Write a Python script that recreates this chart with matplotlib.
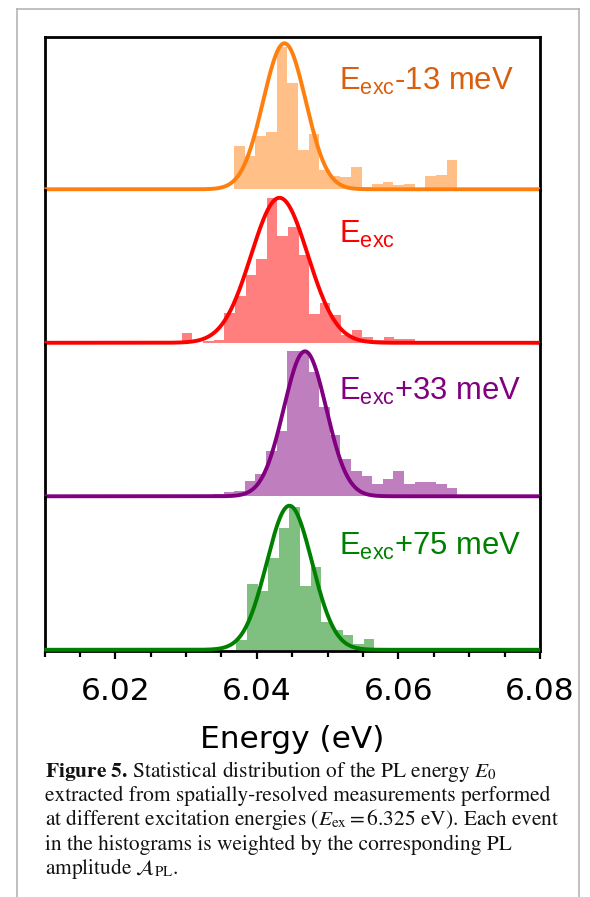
import numpy as np
import matplotlib
matplotlib.use("Agg")
import matplotlib.pyplot as plt
from matplotlib.lines import Line2D
from matplotlib.ticker import MultipleLocator

# ---------------- data ----------------
BIN_WIDTH = 0.0015  # eV

orange_start = 6.0368
orange_heights = [0.282, 0.216, 0.354, 0.380, 0.940, 0.702, 0.262, 0.365, 0.125,
                  0.085, 0.081, 0.144, 0.015, 0.033, 0.046, 0.026, 0.033, 0.007,
                  0.085, 0.092, 0.195]

red_start = 6.0294
red_heights = [0.065, 0.0, 0.010, 0.015, 0.195, 0.310, 0.448, 0.552, 0.952, 0.703,
               0.760, 0.578, 0.188, 0.260, 0.182, 0.048, 0.084, 0.039, 0.015,
               0.041, 0.026, 0.022]

purple_start = 6.0293
purple_heights = [0.008, 0.0, 0.010, 0.012, 0.026, 0.037, 0.100, 0.145, 0.300,
                  0.427, 0.952, 0.952, 0.816, 0.588, 0.403, 0.245, 0.169, 0.132,
                  0.082, 0.115, 0.167, 0.082, 0.095, 0.091, 0.082, 0.052]

green_start = 6.0371
green_heights = [0.065, 0.430, 0.383, 0.600, 0.800, 0.940, 0.416, 0.545, 0.182,
                 0.130, 0.097, 0.039, 0.071, 0.0, 0.005, 0.005, 0.013]

# Gaussian fits: centre (eV), sigma (eV), amplitude
fit_centers = [6.0439, 6.0432, 6.0468, 6.0446]
fit_sigmas = [0.0030, 0.0040, 0.0030, 0.0032]
fit_amps = [0.962, 0.952, 0.952, 0.946]

labels = [r"E$_\mathregular{exc}$-13 meV", r"E$_\mathregular{exc}$",
          r"E$_\mathregular{exc}$+33 meV", r"E$_\mathregular{exc}$+75 meV"]

x_ticks = [6.02, 6.04, 6.06, 6.08]
x_tick_labels = ["6.02", "6.04", "6.06", "6.08"]
x_label = "Energy (eV)"

caption_lines = [
    r"$\mathbf{Figure\ 5.}\,$Statistical distribution of the PL energy $E_0$",
    "extracted from spatially-resolved measurements performed",
    r"at different excitation energies ($E_\mathrm{ex} = 6.325$ eV). Each event",
    "in the histograms is weighted by the corresponding PL",
    r"amplitude $\mathcal{A}_\mathrm{PL}$.",
]

# ---------------- styling ----------------
line_colors = ["#ff7f0e", "#ff0000", "#800080", "#008000"]
bar_colors = ["#ffbf86", "#ff7f7f", "#bf7fbf", "#7fbf7f"]
text_colors = ["#d95f0e", "#ff0000", "#800080", "#008000"]
label_y = [0.656, 0.658, 0.635, 0.623]

starts = [orange_start, red_start, purple_start, green_start]
heights = [orange_heights, red_heights, purple_heights, green_heights]

plt.rcParams["mathtext.fontset"] = "custom"
plt.rcParams["mathtext.rm"] = "Liberation Sans"

W, H = 590, 897
fig = plt.figure(figsize=(W / 100, H / 100), dpi=100)

left_px, right_px = 44.5, 540.0
bounds_px = [37.5, 190.5, 344.0, 497.5, 651.0]

xmin, xmax = 6.01, 6.08
xfine = np.linspace(xmin, xmax, 1500)

axes = []
for i in range(4):
    top = bounds_px[i]
    bot = bounds_px[i + 1]
    ax = fig.add_axes([left_px / W, 1 - bot / H, (right_px - left_px) / W, (bot - top) / H])
    axes.append(ax)
    edges = starts[i] + BIN_WIDTH * np.arange(len(heights[i]))
    ax.bar(edges, heights[i], width=BIN_WIDTH, align="edge", color=bar_colors[i],
           linewidth=0, zorder=1)
    fit = fit_amps[i] * np.exp(-0.5 * ((xfine - fit_centers[i]) / fit_sigmas[i]) ** 2)
    ax.plot(xfine, fit, color=line_colors[i], lw=2.8, zorder=3, clip_on=False,
            solid_capstyle="butt")
    ax.set_xlim(xmin, xmax)
    ax.set_ylim(-0.008, 1.0)
    ax.set_yticks([])
    ax.patch.set_alpha(0)
    for s in ["left", "right", "top", "bottom"]:
        ax.spines[s].set_linewidth(2.0)
        ax.spines[s].set_color("black")
    if i > 0:
        ax.spines["top"].set_visible(False)
    if i < 3:
        ax.spines["bottom"].set_visible(False)
        ax.tick_params(axis="x", which="both", bottom=False, labelbottom=False)
    ax.text(0.594, label_y[i], labels[i], transform=ax.transAxes, color=text_colors[i],
            fontsize=22.3, family="Liberation Sans", ha="left", va="baseline")

axb = axes[3]
axb.set_xticks(x_ticks)
axb.set_xticklabels(x_tick_labels)
axb.xaxis.set_minor_locator(MultipleLocator(0.005))
axb.tick_params(axis="x", which="major", direction="out", length=6, width=1.6,
                labelsize=22.5, pad=12.5)
axb.tick_params(axis="x", which="minor", direction="out", length=4, width=1.6)
for t in axb.get_xticklabels():
    t.set_family("DejaVu Sans")
axb.set_xlabel(x_label, fontsize=22.5, family="DejaVu Sans", labelpad=14)

# caption
fig.canvas.draw()
renderer = fig.canvas.get_renderer()
cap_fs = 14.0
probe = fig.text(0, 0, caption_lines[1], fontsize=cap_fs, family="STIXGeneral",
                 math_fontfamily="stix")
wpx = probe.get_window_extent(renderer).width
probe.remove()
cap_fs = cap_fs * 508.0 / wpx
cap_baselines = [777, 801, 825, 850, 874]
for line, yb in zip(caption_lines, cap_baselines):
    fig.text(45 / W, 1 - yb / H, line, fontsize=cap_fs, family="STIXGeneral",
             math_fontfamily="stix", ha="left", va="baseline", color="#111111")

# light grey page frame
frame_col = "#b5b5b5"
fx0, fx1, fy0 = 16.5 / W, 579 / W, 1 - 9.5 / H
fig.add_artist(Line2D([fx0, fx0], [0, fy0], transform=fig.transFigure, color=frame_col, lw=1.2))
fig.add_artist(Line2D([fx1, fx1], [0, fy0], transform=fig.transFigure, color=frame_col, lw=1.2))
fig.add_artist(Line2D([fx0, fx1], [fy0, fy0], transform=fig.transFigure, color=frame_col, lw=1.2))

fig.savefig("out.png", dpi=100)
